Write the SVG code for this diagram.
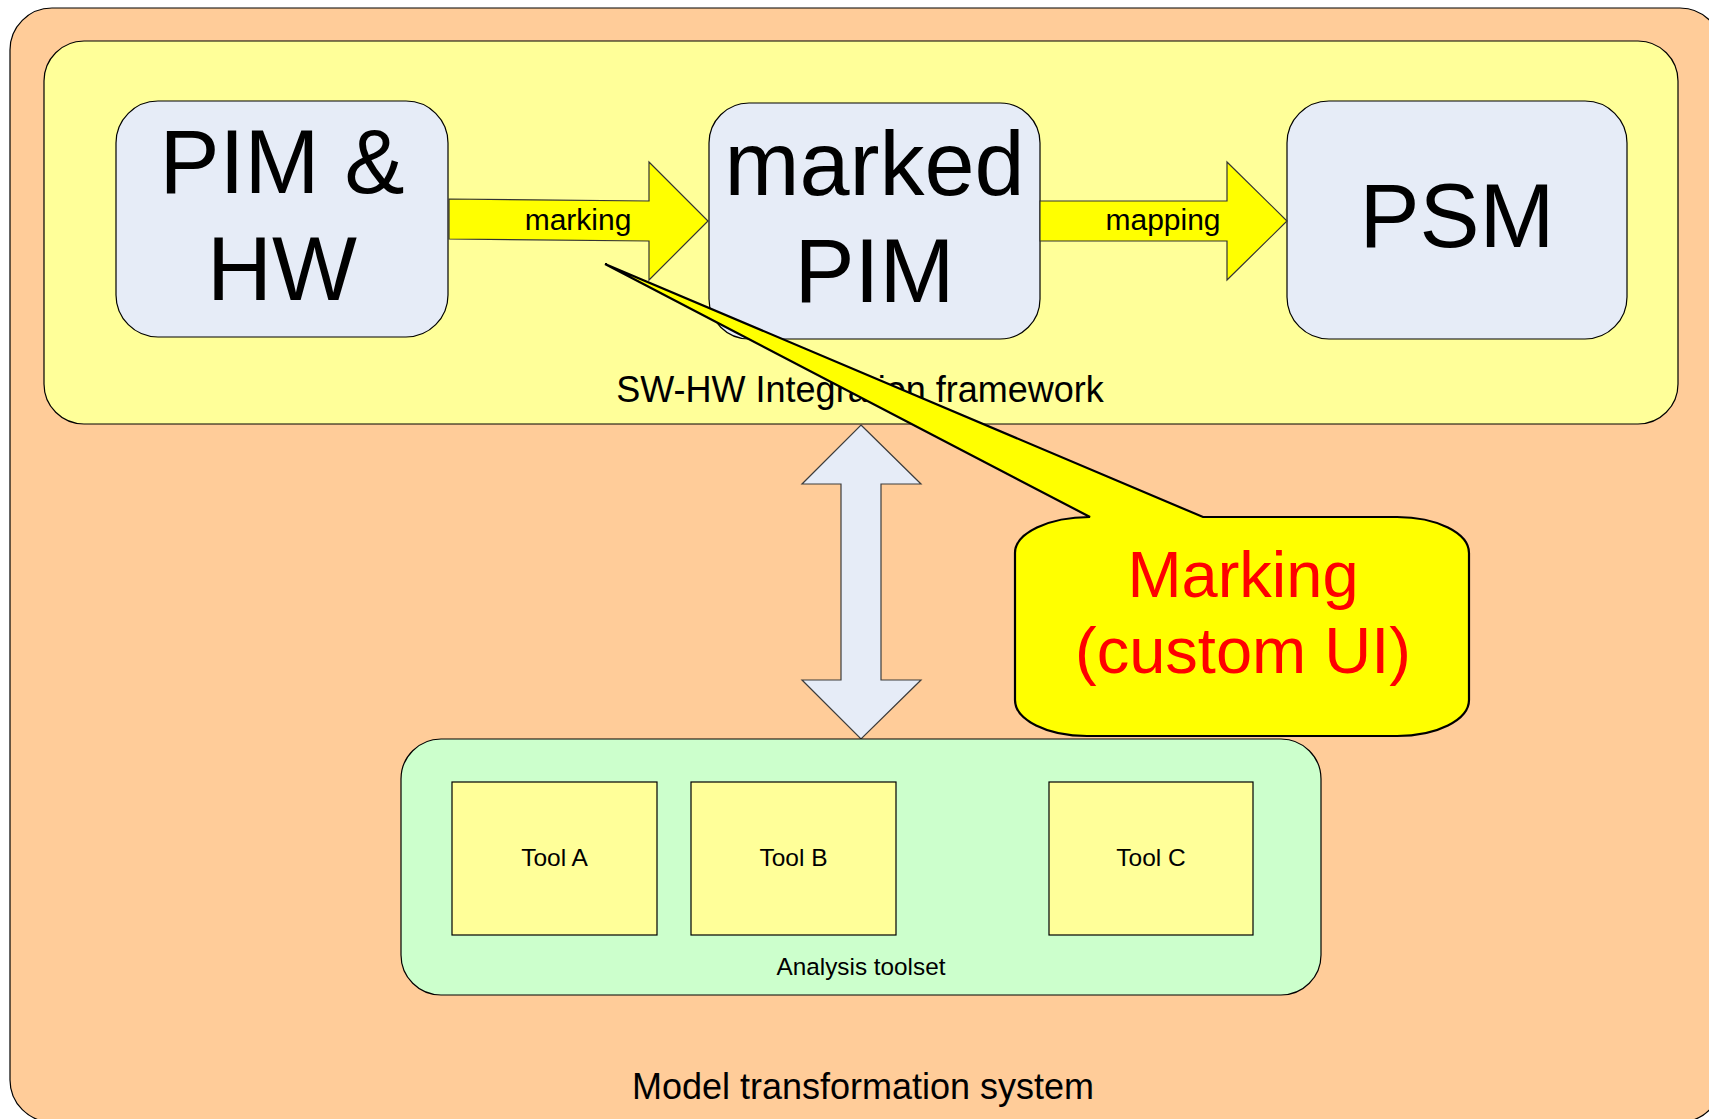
<svg xmlns="http://www.w3.org/2000/svg" width="1709" height="1119" viewBox="0 0 1709 1119">
<style>
text{font-family:"Liberation Sans",Arial,sans-serif;fill:#000;text-anchor:middle}
.model{fill:#E6ECF7;stroke:#000;stroke-width:1.2}
.big{font-size:90px}
.tool{fill:#FFFF99;stroke:#000;stroke-width:1.2}
.tl{font-size:24.5px}
.blk{fill:#FFFF00;stroke:#333;stroke-width:1.2}
.lbl{font-size:30px}
</style>
<g id="model-transformation-system">
<rect x="10" y="8" width="1712" height="1114" rx="42" ry="42" fill="#FFCC99" stroke="#000" stroke-width="1.2"/>
<text x="863" y="1099" style="font-size:36px">Model transformation system</text>
</g>
<g id="sw-hw-framework">
<rect x="44" y="41" width="1634" height="383" rx="40" ry="40" fill="#FFFF99" stroke="#000" stroke-width="1.2"/>
<text x="860" y="402" style="font-size:36px">SW-HW Integration framework</text>
</g>
<g id="pim-hw">
<rect class="model" x="116" y="101" width="332" height="236" rx="42" ry="42"/>
<text class="big" x="282" y="193">PIM &amp;</text>
<text class="big" x="282" y="300">HW</text>
</g>
<g id="marked-pim">
<rect class="model" x="709" y="103" width="331" height="236" rx="40" ry="40"/>
<text class="big" x="874.5" y="195">marked</text>
<text class="big" x="874.5" y="302">PIM</text>
</g>
<g id="psm">
<rect class="model" x="1287" y="101" width="340" height="238" rx="42" ry="42"/>
<text class="big" x="1457" y="247">PSM</text>
</g>
<g id="connectors">
<g id="marking-arrow">
<path class="blk" d="M449,199 L649,201 L649,162 L708,221 L649,280 L649,241 L449,239 Z"/>
<text class="lbl" x="578" y="230">marking</text>
</g>
<g id="mapping-arrow">
<path class="blk" d="M1040,201 L1227,201 L1227,162 L1287,221 L1227,280 L1227,241 L1040,241 Z"/>
<text class="lbl" x="1163" y="230">mapping</text>
</g>
<path id="framework-toolset-arrow" d="M861,425 L921,484 L881,484 L881,680 L921,680 L861,739 L802,680 L841,680 L841,484 L802,484 Z" fill="#E6ECF7" stroke="#3C3C3C" stroke-width="1.2"/>
</g>
<g id="analysis-toolset">
<rect x="401" y="739" width="920" height="256" rx="40" ry="40" fill="#CCFFCC" stroke="#000" stroke-width="1.2"/>
<text x="861" y="975" style="font-size:24.3px">Analysis toolset</text>
</g>
<g id="tool-a">
<rect class="tool" x="452" y="782" width="205" height="153"/>
<text class="tl" x="554.5" y="866">Tool A</text>
</g>
<g id="tool-b">
<rect class="tool" x="691" y="782" width="205" height="153"/>
<text class="tl" x="793.5" y="866">Tool B</text>
</g>
<g id="tool-c">
<rect class="tool" x="1049" y="782" width="204" height="153"/>
<text class="tl" x="1151" y="866">Tool C</text>
</g>
<g id="marking-callout">
<path d="M1090,517 L605,264 L1203,517 L1397,517 A72,36 0 0 1 1469,553 L1469,700 A72,36 0 0 1 1397,736 L1087,736 A72,36 0 0 1 1015,700 L1015,553 A75,36 0 0 1 1090,517 Z" fill="#FFFF00" stroke="#000" stroke-width="2.2" stroke-linejoin="miter"/>
<text x="1243" y="597" style="font-size:65px;fill:#FF0000">Marking</text>
<text x="1243" y="673" style="font-size:65px;fill:#FF0000">(custom UI)</text>
</g>
</svg>
